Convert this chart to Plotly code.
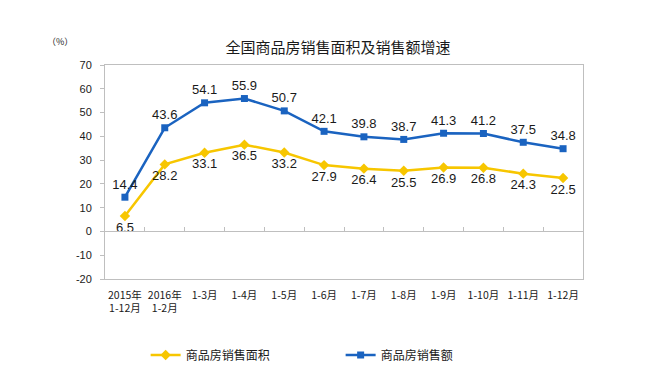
import plotly.graph_objects as go

categories = ["2015年<br>1-12月", "2016年<br>1-2月", "1-3月", "1-4月", "1-5月", "1-6月",
              "1-7月", "1-8月", "1-9月", "1-10月", "1-11月", "1-12月"]
area_growth = [6.5, 28.2, 33.1, 36.5, 33.2, 27.9, 26.4, 25.5, 26.9, 26.8, 24.3, 22.5]
amount_growth = [14.4, 43.6, 54.1, 55.9, 50.7, 42.1, 39.8, 38.7, 41.3, 41.2, 37.5, 34.8]
y_ticks = [-20, -10, 0, 10, 20, 30, 40, 50, 60, 70]
y_tick_labels = [str(v) for v in y_ticks]

xs = list(range(len(categories)))
boundaries = [i + 0.5 for i in xs[:-1]]

YELLOW = "#F7C600"
BLUE = "#1A63C0"
NUM_FONT = "Liberation Sans, Arial, sans-serif"
CJK_FONT = "Noto Sans CJK SC, sans-serif"
GRAY = "#BFBFBF"

fig = go.Figure()
fig.add_trace(go.Scatter(
    x=xs, y=area_growth, name="商品房销售面积", mode="lines+markers+text",
    line=dict(color=YELLOW, width=2.5),
    marker=dict(symbol="diamond", size=8, color=YELLOW),
    text=[f"{v}" for v in area_growth], textposition="bottom center",
    textfont=dict(family=NUM_FONT, size=13, color="#1a1a1a"),
    hoverinfo="skip",
))
fig.add_trace(go.Scatter(
    x=xs, y=amount_growth, name="商品房销售额", mode="lines+markers+text",
    line=dict(color=BLUE, width=2.5),
    marker=dict(symbol="square", size=7, color=BLUE),
    text=[f"{v}" for v in amount_growth], textposition="top center",
    textfont=dict(family=NUM_FONT, size=13, color="#1a1a1a"),
    hoverinfo="skip",
))
# invisible helper trace so the zero-line category axis (with boundary ticks) is drawn
fig.add_trace(go.Scatter(
    x=xs, y=area_growth, xaxis="x2", mode="markers",
    marker=dict(opacity=0), showlegend=False, hoverinfo="skip",
))

fig.update_layout(
    template="none",
    width=670, height=377,
    margin=dict(l=97, r=95, t=57, b=106, autoexpand=False),
    paper_bgcolor="white", plot_bgcolor="white",
    title=dict(text="全国商品房销售面积及销售额增速", x=330 / 670, xanchor="center",
               y=1 - 40 / 377, yanchor="middle", automargin=False,
               font=dict(family=CJK_FONT, size=15, color="#1a1a1a")),
    xaxis=dict(range=[-0.5, len(categories) - 0.5], tickmode="array", tickvals=xs,
               ticktext=categories, showgrid=False, zeroline=False, automargin=False,
               showline=True, linecolor=GRAY, linewidth=1, mirror=True, ticks="",
               ticklabelstandoff=6,
               tickfont=dict(family=CJK_FONT, size=10.5, color="#1a1a1a")),
    xaxis2=dict(overlaying="x", anchor="free", position=20 / 90, automargin=False,
                range=[-0.5, len(categories) - 0.5], tickmode="array",
                tickvals=boundaries, showticklabels=False, ticks="inside",
                ticklen=4, tickcolor=GRAY, showline=True, linecolor=GRAY,
                linewidth=1, showgrid=False, zeroline=False),
    yaxis=dict(range=[-20, 70], tickmode="array", tickvals=y_ticks,
               ticktext=y_tick_labels, showgrid=False,
               zeroline=False, showline=True, linecolor=GRAY, linewidth=1, mirror=True,
               ticks="outside", ticklen=4, tickcolor=GRAY, automargin=False,
               ticklabelstandoff=6,
               tickfont=dict(family=NUM_FONT, size=11, color="#1a1a1a")),
    legend=dict(orientation="h", x=0.085, xanchor="left", y=(271 - 347) / 214,
                yanchor="middle", entrywidth=150, entrywidthmode="pixels",
                bgcolor="rgba(0,0,0,0)",
                font=dict(family=CJK_FONT, size=12, color="#1a1a1a")),
    annotations=[dict(text="（%）", x=(52 - 97) / 478, y=(271 - 33) / 214,
                      xref="paper", yref="paper",
                      showarrow=False, xanchor="center", yanchor="middle",
                      font=dict(family=CJK_FONT, size=9, color="#1a1a1a"))],
)

fig.write_html("out.html")
